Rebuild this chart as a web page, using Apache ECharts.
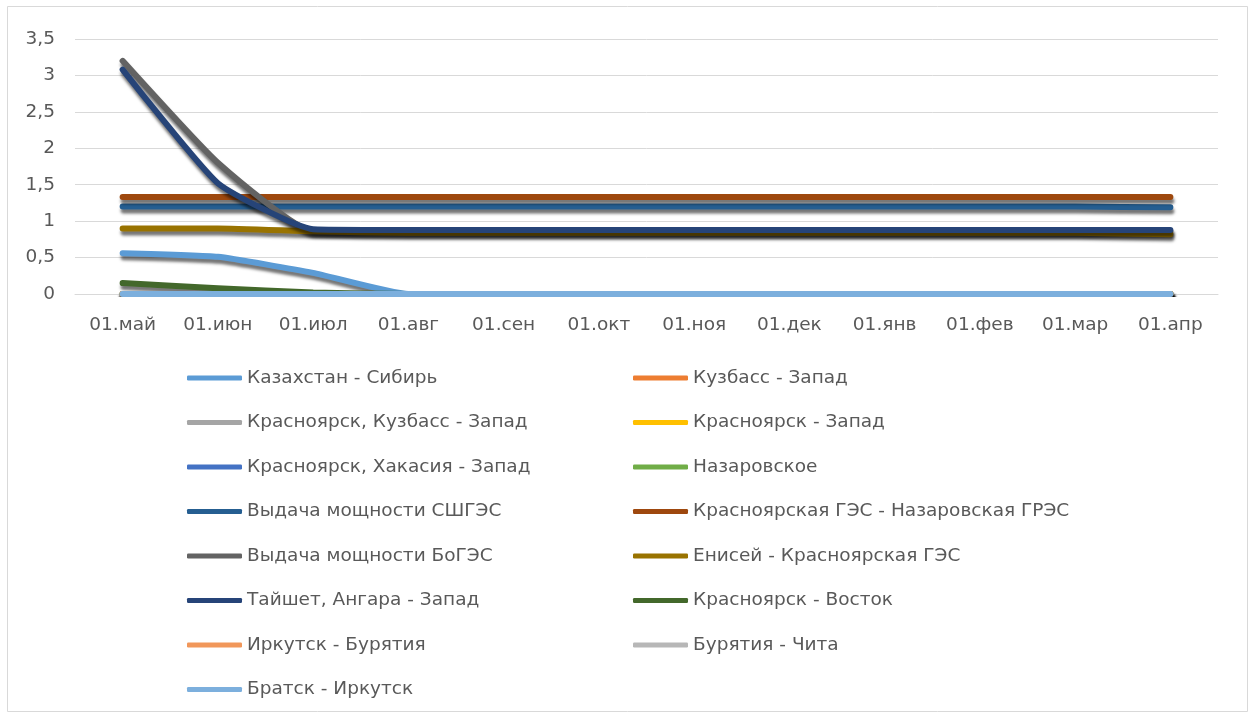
<!DOCTYPE html>
<html>
<head>
<meta charset="utf-8">
<title>Загрузка сечений</title>
<script src="https://cdn.jsdelivr.net/npm/echarts@6/dist/echarts.min.js"></script>
<style>
  html, body { margin: 0; padding: 0; background: #fff; }
  #chart { width: 1255px; height: 718px; }
</style>
</head>
<body>
<div id="chart"></div>
<script>
// Months on the category axis
const months = ['01.май', '01.июн', '01.июл', '01.авг', '01.сен', '01.окт', '01.ноя', '01.дек', '01.янв', '01.фев', '01.мар', '01.апр'];

// Series values per month
const kazakhstanSiberia   = [0.56, 0.51, 0.29, 0, 0, 0, 0, 0, 0, 0, 0, 0];
const kuzbassWest         = [0, 0, 0, 0, 0, 0, 0, 0, 0, 0, 0, 0];
const krasKuzbassWest     = [0, 0, 0, 0, 0, 0, 0, 0, 0, 0, 0, 0];
const krasWest            = [0, 0, 0, 0, 0, 0, 0, 0, 0, 0, 0, 0];
const krasKhakasiaWest    = [0, 0, 0, 0, 0, 0, 0, 0, 0, 0, 0, 0];
const nazarovskoe         = [0, 0, 0, 0, 0, 0, 0, 0, 0, 0, 0, 0];
const sshgesOutput        = [1.2, 1.2, 1.2, 1.2, 1.2, 1.2, 1.2, 1.2, 1.2, 1.2, 1.2, 1.19];
const krasGesNazGres      = [1.33, 1.33, 1.33, 1.33, 1.33, 1.33, 1.33, 1.33, 1.33, 1.33, 1.33, 1.33];
const bogesOutput         = [3.2, 1.8, 0.86, 0.86, 0.86, 0.86, 0.86, 0.86, 0.86, 0.86, 0.86, 0.86];
const eniseyKrasGes       = [0.9, 0.9, 0.86, 0.84, 0.84, 0.84, 0.84, 0.84, 0.84, 0.84, 0.84, 0.82];
const tayshetAngaraWest   = [3.08, 1.52, 0.89, 0.88, 0.88, 0.88, 0.88, 0.88, 0.88, 0.88, 0.88, 0.88];
const krasEast            = [0.15, 0.08, 0.02, 0, 0, 0, 0, 0, 0, 0, 0, 0];
const irkutskBuryatia     = [0, 0, 0, 0, 0, 0, 0, 0, 0, 0, 0, 0];
const buryatiaChita       = [0, 0, 0, 0, 0, 0, 0, 0, 0, 0, 0, 0];
const bratskIrkutsk       = [0, 0, 0, 0, 0, 0, 0, 0, 0, 0, 0, 0];

// Y axis ticks
const yMin = 0, yMax = 3.5, yStep = 0.5;

const seriesDefs = [
  ['Казахстан - Сибирь', kazakhstanSiberia, '#5B9BD5'],
  ['Кузбасс - Запад', kuzbassWest, '#ED7D31'],
  ['Красноярск, Кузбасс - Запад', krasKuzbassWest, '#A5A5A5'],
  ['Красноярск - Запад', krasWest, '#FFC000'],
  ['Красноярск, Хакасия - Запад', krasKhakasiaWest, '#4472C4'],
  ['Назаровское', nazarovskoe, '#70AD47'],
  ['Выдача мощности СШГЭС', sshgesOutput, '#255E91'],
  ['Красноярская ГЭС - Назаровская ГРЭС', krasGesNazGres, '#9E480E'],
  ['Выдача мощности БоГЭС', bogesOutput, '#636363'],
  ['Енисей - Красноярская ГЭС', eniseyKrasGes, '#997300'],
  ['Тайшет, Ангара - Запад', tayshetAngaraWest, '#264478'],
  ['Красноярск - Восток', krasEast, '#43682B'],
  ['Иркутск - Бурятия', irkutskBuryatia, '#F1975A'],
  ['Бурятия - Чита', buryatiaChita, '#B7B7B7'],
  ['Братск - Иркутск', bratskIrkutsk, '#7CAFDD']
];

const textColor = '#595959';
const fontFamily = '"DejaVu Sans", "Open Sans", sans-serif';

const series = seriesDefs.map(([name, data, color]) => ({
  name,
  type: 'line',
  data,
  symbol: 'none',
  smooth: 0.15,
  color,
  lineStyle: {
    width: 6,
    color,
    cap: 'round',
    join: 'round',
    shadowColor: 'rgba(0,0,0,0.55)',
    shadowBlur: 3,
    shadowOffsetX: 1,
    shadowOffsetY: 4
  },
  emphasis: { disabled: true },
  animation: false
}));

const names = seriesDefs.map(d => d[0]);
const leftNames = names.filter((_, i) => i % 2 === 0);
const rightNames = names.filter((_, i) => i % 2 === 1);

const legendBase = {
  orient: 'vertical',
  top: 368,
  padding: 0,
  itemWidth: 55,
  itemHeight: 5,
  itemGap: 24.5,
  icon: 'roundRect',
  selectedMode: false,
  textStyle: { color: textColor, fontSize: 18.5, fontFamily, lineHeight: 20 }
};

const chart = echarts.init(document.getElementById('chart'), null, { renderer: 'canvas' });
chart.setOption({
  backgroundColor: '#fff',
  animation: false,
  graphic: [{
    type: 'rect',
    shape: { x: 7.5, y: 6.5, width: 1240, height: 705 },
    style: { fill: 'none', stroke: '#d9d9d9', lineWidth: 1 },
    silent: true
  }],
  grid: { left: 75, right: 37, top: 39, bottom: 424, containLabel: false },
  xAxis: {
    type: 'category',
    data: months,
    boundaryGap: true,
    axisLine: { show: true, lineStyle: { color: '#d9d9d9', width: 1 } },
    axisTick: { show: false },
    axisLabel: { color: textColor, fontSize: 18.5, fontFamily, margin: 22 }
  },
  yAxis: {
    type: 'value',
    min: yMin,
    max: yMax,
    interval: yStep,
    axisLine: { show: false },
    axisTick: { show: false },
    splitLine: { lineStyle: { color: '#d9d9d9', width: 1 } },
    axisLabel: {
      color: textColor, fontSize: 18.5, fontFamily, margin: 20,
      formatter: v => String(v).replace('.', ',')
    }
  },
  legend: [
    Object.assign({}, legendBase, { left: 187, data: leftNames }),
    Object.assign({}, legendBase, { left: 633, data: rightNames })
  ],
  series
});
</script>
</body>
</html>
